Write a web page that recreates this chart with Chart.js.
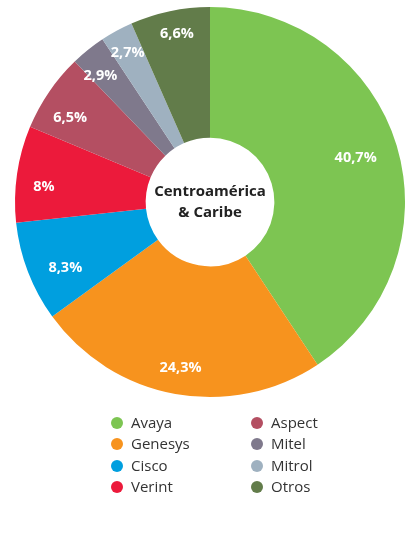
<!DOCTYPE html>
<html>
<head>
<meta charset="utf-8">
<script src="https://cdn.jsdelivr.net/npm/chart.js@4.4.0/dist/chart.umd.min.js"></script>
<style>
  html, body { margin: 0; padding: 0; background: #fff; }
  #wrap { position: relative; width: 405px; height: 540px; }
</style>
</head>
<body>
<div id="wrap"><canvas id="GraficoRosca" width="405" height="540"></canvas></div>
<script>
const categorias = ['Avaya', 'Genesys', 'Cisco', 'Verint', 'Aspect', 'Mitel', 'Mitrol', 'Otros'];
const valores = [40.7, 24.3, 8.3, 8, 6.5, 2.9, 2.7, 6.6];
const etiquetas = ['40,7%', '24,3%', '8,3%', '8%', '6,5%', '2,9%', '2,7%', '6,6%'];
const cores = ['#7dc552', '#f7931e', '#009fdf', '#ec1a3b', '#b44f62', '#7f798c', '#9fb1c0', '#627c4a'];
const titulo = ['Centroamérica', '& Caribe'];

// ordem da legenda: duas colunas
const legendaCol1 = [0, 1, 2, 3];
const legendaCol2 = [4, 5, 6, 7];

const pluginTextos = {
    id: 'textos',
    afterDraw(chart) {
        const ctx = chart.ctx;
        const arcs = chart.getDatasetMeta(0).data;
        // pequenos ajustes manuais dos rotulos
        const ajuste = [[0, 0], [0, 3], [10, 6], [-2, 9], [-3, 9], [-6, 3], [-3, -4], [1, -6]];
        ctx.save();
        ctx.textAlign = 'center';
        ctx.textBaseline = 'middle';

        // rotulos das fatias
        ctx.fillStyle = '#fff';
        ctx.font = 'bold 14.5px "Open Sans"';
        arcs.forEach((arc, i) => {
            const meio = (arc.startAngle + arc.endAngle) / 2;
            const r = arc.outerRadius * (i === 0 ? 0.78 : 0.85);
            ctx.fillText(etiquetas[i],
                arc.x + Math.cos(meio) * r + ajuste[i][0],
                arc.y + Math.sin(meio) * r + ajuste[i][1]);
        });

        // texto do centro
        const cx = arcs[0].x, cy = arcs[0].y;
        ctx.fillStyle = '#222';
        ctx.font = 'bold 15px "Open Sans"';
        ctx.fillText(titulo[0], cx, cy - 10);
        ctx.fillText(titulo[1], cx, cy + 11);

        // legenda
        ctx.textAlign = 'left';
        ctx.font = '15px "Open Sans"';
        const linhas = [423, 444, 466, 487];
        const desenhaCol = (idx, xPonto) => {
            idx.forEach((k, j) => {
                ctx.fillStyle = cores[k];
                ctx.beginPath();
                ctx.arc(xPonto, linhas[j], 6, 0, Math.PI * 2);
                ctx.fill();
                ctx.fillStyle = '#333';
                ctx.fillText(categorias[k], xPonto + 14, linhas[j] + 1);
            });
        };
        desenhaCol(legendaCol1, 117);
        desenhaCol(legendaCol2, 257);
        ctx.restore();
    }
};

const ctx = document.getElementById('GraficoRosca').getContext('2d');
new Chart(ctx, {
    type: 'doughnut',
    data: {
        labels: categorias,
        datasets: [{
            data: valores,
            backgroundColor: cores,
            borderWidth: 0
        }]
    },
    options: {
        responsive: false,
        animation: false,
        cutout: '33%',
        layout: { padding: { left: 15, right: 0, top: 7, bottom: 143 } },
        plugins: {
            legend: { display: false },
            tooltip: { enabled: false }
        }
    },
    plugins: [pluginTextos]
});
</script>
</body>
</html>
